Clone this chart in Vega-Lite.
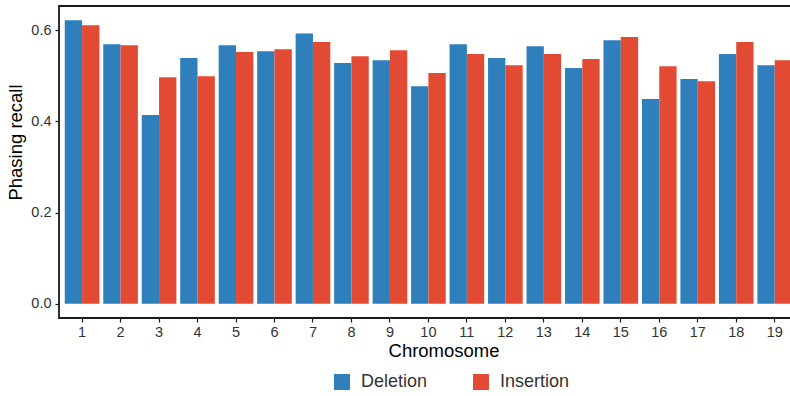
{
  "$schema": "https://vega.github.io/schema/vega-lite/v6.json",
  "autosize": "none",
  "padding": {"left": 59, "top": 6, "right": 0, "bottom": 78},
  "width": 738.8,
  "height": 312,
  "background": "white",
  "config": {
    "font": "Liberation Sans",
    "view": {"stroke": "#1a1a1a", "strokeWidth": 1.8},
    "axis": {"grid": false, "domain": false, "tickColor": "#1a1a1a", "tickSize": 4, "tickWidth": 1.2, "labelColor": "#333333", "labelFontSize": 14.5, "titleFontSize": 18.5, "titleFontWeight": "normal", "titleColor": "#000000", "labelFont": "Liberation Sans", "titleFont": "Liberation Sans"},
    "legend": {"labelFont": "Liberation Sans", "labelFontSize": 18, "labelColor": "#333333"}
  },
  "data": {
    "values": [
      {"chr": "1", "type": "Deletion", "recall": 0.622}, {"chr": "1", "type": "Insertion", "recall": 0.611},
      {"chr": "2", "type": "Deletion", "recall": 0.569}, {"chr": "2", "type": "Insertion", "recall": 0.567},
      {"chr": "3", "type": "Deletion", "recall": 0.414}, {"chr": "3", "type": "Insertion", "recall": 0.497},
      {"chr": "4", "type": "Deletion", "recall": 0.539}, {"chr": "4", "type": "Insertion", "recall": 0.499},
      {"chr": "5", "type": "Deletion", "recall": 0.567}, {"chr": "5", "type": "Insertion", "recall": 0.552},
      {"chr": "6", "type": "Deletion", "recall": 0.554}, {"chr": "6", "type": "Insertion", "recall": 0.558},
      {"chr": "7", "type": "Deletion", "recall": 0.593}, {"chr": "7", "type": "Insertion", "recall": 0.574},
      {"chr": "8", "type": "Deletion", "recall": 0.528}, {"chr": "8", "type": "Insertion", "recall": 0.543},
      {"chr": "9", "type": "Deletion", "recall": 0.534}, {"chr": "9", "type": "Insertion", "recall": 0.556},
      {"chr": "10", "type": "Deletion", "recall": 0.477}, {"chr": "10", "type": "Insertion", "recall": 0.506},
      {"chr": "11", "type": "Deletion", "recall": 0.569}, {"chr": "11", "type": "Insertion", "recall": 0.548},
      {"chr": "12", "type": "Deletion", "recall": 0.539}, {"chr": "12", "type": "Insertion", "recall": 0.523},
      {"chr": "13", "type": "Deletion", "recall": 0.565}, {"chr": "13", "type": "Insertion", "recall": 0.548},
      {"chr": "14", "type": "Deletion", "recall": 0.517}, {"chr": "14", "type": "Insertion", "recall": 0.537},
      {"chr": "15", "type": "Deletion", "recall": 0.578}, {"chr": "15", "type": "Insertion", "recall": 0.585},
      {"chr": "16", "type": "Deletion", "recall": 0.449}, {"chr": "16", "type": "Insertion", "recall": 0.521},
      {"chr": "17", "type": "Deletion", "recall": 0.493}, {"chr": "17", "type": "Insertion", "recall": 0.488},
      {"chr": "18", "type": "Deletion", "recall": 0.548}, {"chr": "18", "type": "Insertion", "recall": 0.574},
      {"chr": "19", "type": "Deletion", "recall": 0.523}, {"chr": "19", "type": "Insertion", "recall": 0.534}
    ]
  },
  "mark": {"type": "bar"},
  "encoding": {
    "x": {
      "field": "chr", "type": "nominal", "sort": null,
      "scale": {"paddingInner": 0.1, "paddingOuter": 0.15},
      "axis": {"title": "Chromosome", "labelAngle": 0, "labelPadding": 4, "titleX": 384.5, "titleY": 39, "titleAlign": "center", "titleBaseline": "alphabetic"}
    },
    "xOffset": {"field": "type", "type": "nominal", "scale": {"paddingInner": 0, "paddingOuter": 0}},
    "y": {
      "field": "recall", "type": "quantitative",
      "scale": {"domain": [-0.0311, 0.6531], "nice": false, "zero": false},
      "axis": {"title": "Phasing recall", "values": [0, 0.2, 0.4, 0.6], "format": ".1f", "labelPadding": 4, "titleX": -37.3, "titleY": 136, "titleAlign": "center", "titleBaseline": "alphabetic", "titleAngle": -90}
    },
    "color": {
      "field": "type", "type": "nominal",
      "scale": {"domain": ["Deletion", "Insertion"], "range": ["#2E7FBB", "#E34A33"]},
      "legend": {"title": null, "orient": "none", "direction": "horizontal", "legendX": 274, "legendY": 367, "symbolType": "square", "symbolSize": 256, "symbolStrokeWidth": 0, "symbolOpacity": 1, "labelOffset": 10, "columnPadding": 44}
    }
  }
}
